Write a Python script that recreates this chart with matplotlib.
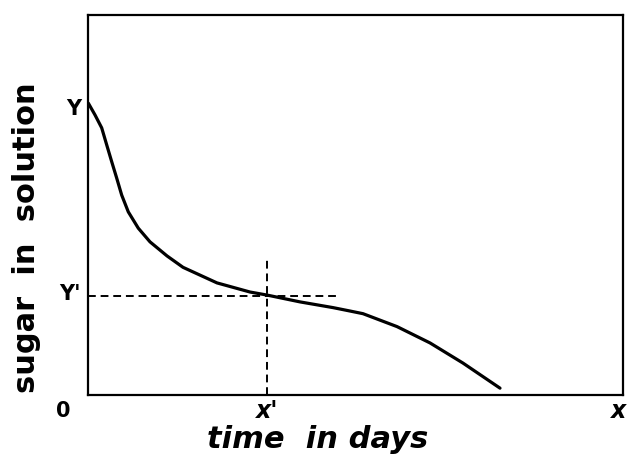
import matplotlib.pyplot as plt

plt.switch_backend('Agg')

# sugar remaining in solution over time (arbitrary units, 0-100 scale)
days = [0.06, 1.31, 2.56, 3.50, 4.43, 5.36, 6.30, 7.53, 9.40, 11.59, 14.77,
        17.76, 24.11, 30.28, 33.46, 39.63, 45.79, 48.97, 51.40, 57.76,
        63.93, 70.09, 77.01]
sugar = [76.8, 73.7, 70.3, 65.8, 61.4, 57.1, 52.6, 48.2, 43.9, 40.3, 36.6,
         33.6, 29.5, 27.1, 26.3, 24.5, 23.0, 22.1, 21.4, 18.0, 13.7, 8.4, 1.8]

y_start = 76.8
x_mark = 33.5
y_mark = 26.0

fig = plt.figure(figsize=(6.32, 4.57), dpi=100)
ax = fig.add_axes([88 / 632, 1 - 395 / 457, 535 / 632, 380 / 457])

ax.plot(days, sugar, color='black', lw=2.3, solid_capstyle='round',
        solid_joinstyle='round')
ax.plot([0, 47], [y_mark, y_mark], color='black', lw=1.4, ls=(0, (4, 2.5)))
ax.plot([x_mark, x_mark], [0, 35.5], color='black', lw=1.4, ls=(0, (4, 2.5)))

ax.set_xlim(0, 100)
ax.set_ylim(0, 100)
ax.set_xticks([])
ax.set_yticks([])
for sp in ax.spines.values():
    sp.set_linewidth(1.6)

font = dict(family='DejaVu Sans', weight='bold', color='black')
ax.text(-1.3, y_start - 1.5, 'Y', ha='right', va='center', fontsize=15, **font)
ax.text(-1.3, y_mark + 0.5, "Y'", ha='right', va='center', fontsize=15, **font)
ax.text(-3.3, -4.2, '0', ha='right', va='center', fontsize=15, **font)
ax.text(x_mark, -4.2, "x'", ha='center', va='center', fontsize=17,
        style='italic', **font)
ax.text(99.2, -4.2, 'x', ha='center', va='center', fontsize=17,
        style='italic', **font)

fig.text(318 / 632, 1 - 440 / 457, 'time  in days', ha='center', va='center',
         fontsize=22, style='italic', **font)
fig.text(27 / 632, 1 - 238 / 457, 'sugar  in  solution', ha='center',
         va='center', rotation=90, fontsize=22, **font)

fig.savefig('out.png', dpi=100)
